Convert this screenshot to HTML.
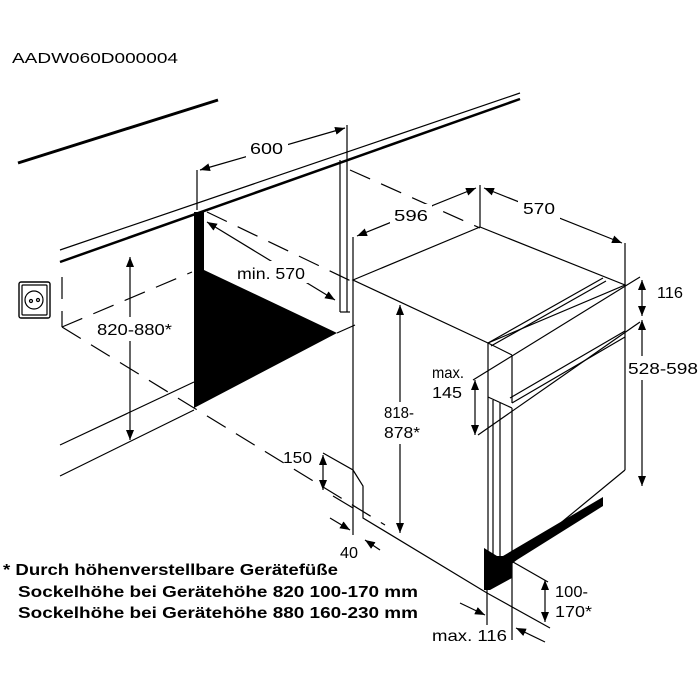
<!DOCTYPE html>
<html><head><meta charset="utf-8"><style>
html,body{margin:0;padding:0;background:#fff;}
svg{display:block;font-family:"Liberation Sans",Arial,sans-serif;}
</style></head><body>
<svg width="700" height="700" viewBox="0 0 700 700" xmlns="http://www.w3.org/2000/svg">
<defs>
<marker id="a" viewBox="0 0 10 10" refX="10" refY="5" markerWidth="10" markerHeight="10" markerUnits="userSpaceOnUse" orient="auto-start-reverse"><path d="M0,1 L10,5 L0,9 Z" fill="#000"/></marker>
</defs>
<text x="12" y="63" font-size="15" textLength="166" lengthAdjust="spacingAndGlyphs">AADW060D000004</text>
<g stroke="#000" fill="none" stroke-width="1.2">
<line x1="18" y1="163" x2="218" y2="100" stroke-width="3"/>
<line x1="60" y1="250" x2="520" y2="93"/>
<line x1="60" y1="262" x2="520" y2="99" stroke-width="2.5"/>
<line x1="197" y1="170" x2="197" y2="210"/>
<line x1="347" y1="125" x2="347" y2="312"/>
<line x1="340" y1="160" x2="340" y2="312"/>
<line x1="340" y1="312" x2="350" y2="312"/>
<line x1="337" y1="333" x2="355" y2="325"/>
<line x1="200" y1="170" x2="345" y2="128" marker-start="url(#a)" marker-end="url(#a)"/>
<line x1="207" y1="222" x2="335" y2="300" marker-start="url(#a)" marker-end="url(#a)"/>
<g stroke-dasharray="22,12">
<line x1="207" y1="212" x2="355" y2="283"/>
<line x1="350" y1="170" x2="480" y2="228"/>
<line x1="62" y1="327" x2="192" y2="272"/>
<line x1="62" y1="327" x2="385" y2="525"/>
<line x1="62" y1="277" x2="62" y2="327"/>
</g>
<line x1="60" y1="445" x2="194" y2="382"/>
<line x1="60" y1="476" x2="194" y2="410"/>
<line x1="130" y1="257" x2="130" y2="440" marker-start="url(#a)" marker-end="url(#a)"/>
<rect x="19" y="282" width="31" height="36" rx="2" stroke-width="1.4"/>
<rect x="22" y="285" width="25" height="30" rx="1"/>
<circle cx="34" cy="300" r="9"/>
<circle cx="31" cy="301" r="1.5"/><circle cx="38" cy="300" r="1.5"/>
<polyline points="323,453 353,470 363,486 363,518 487,593"/>
<line x1="323" y1="455" x2="323" y2="490" marker-start="url(#a)" marker-end="url(#a)"/>
<line x1="353" y1="280" x2="353" y2="535"/>
<line x1="330" y1="518" x2="350" y2="530" marker-end="url(#a)"/>
<line x1="380" y1="550" x2="365" y2="540" marker-end="url(#a)"/>
<line x1="333" y1="496" x2="353" y2="508"/>
<polygon points="353,280 480,227 625,285 488,343"/>
<line x1="480" y1="185" x2="480" y2="227"/>
<line x1="353" y1="237" x2="353" y2="280"/>
<line x1="625" y1="243" x2="625" y2="470"/>
<line x1="357" y1="236" x2="476" y2="188" marker-start="url(#a)" marker-end="url(#a)"/>
<line x1="484" y1="188" x2="622" y2="243" marker-start="url(#a)" marker-end="url(#a)"/>
<line x1="488" y1="343" x2="603" y2="278"/>
<line x1="491" y1="346" x2="606" y2="281"/>
<line x1="488" y1="343" x2="512" y2="355"/>
<line x1="512" y1="355" x2="512" y2="403"/>
<line x1="512" y1="403" x2="625" y2="337"/>
<line x1="510" y1="398" x2="625" y2="331"/>
<line x1="488" y1="397" x2="512" y2="408"/>
<line x1="488" y1="343" x2="488" y2="555"/>
<line x1="493" y1="400" x2="493" y2="555"/>
<line x1="500" y1="403" x2="500" y2="560"/>
<line x1="512" y1="408" x2="512" y2="640"/>
<line x1="625" y1="470" x2="512" y2="563"/>
<line x1="473" y1="380" x2="640" y2="277"/>
<line x1="478" y1="435" x2="640" y2="322"/>
<line x1="642" y1="280" x2="642" y2="316" marker-start="url(#a)" marker-end="url(#a)"/>
<line x1="642" y1="320" x2="642" y2="486" marker-start="url(#a)" marker-end="url(#a)"/>
<line x1="475" y1="380" x2="475" y2="435" marker-start="url(#a)" marker-end="url(#a)"/>
<line x1="400" y1="305" x2="400" y2="533" marker-start="url(#a)" marker-end="url(#a)"/>
<line x1="513" y1="562" x2="548" y2="582"/>
<line x1="487" y1="593" x2="550" y2="628"/>
<line x1="545" y1="580" x2="545" y2="622" marker-start="url(#a)" marker-end="url(#a)"/>
<line x1="487" y1="590" x2="487" y2="625"/>
<line x1="460" y1="603" x2="485" y2="615" marker-end="url(#a)"/>
<line x1="545" y1="642" x2="516" y2="628" marker-end="url(#a)"/>
</g>
<polygon points="194,212 204,212 204,270 337,333 194,408" fill="#000"/>
<polygon points="484,548 497,556 503,556 603,497 603,506 512,563 512,578 490,590 484,590" fill="#000"/>
<g fill="#fff">
<rect x="246" y="136" width="42" height="22"/>
<rect x="232" y="261" width="76" height="22"/>
<rect x="93" y="317" width="84" height="24"/>
<rect x="390" y="204" width="42" height="22"/>
<rect x="518" y="197" width="42" height="22"/>
<rect x="380" y="402" width="44" height="42"/>
<rect x="626" y="356" width="74" height="24"/>
</g>
<g font-size="16" fill="#000" lengthAdjust="spacingAndGlyphs">
<text x="250" y="154" textLength="33" lengthAdjust="spacingAndGlyphs">600</text>
<text x="237" y="279" textLength="68" lengthAdjust="spacingAndGlyphs">min. 570</text>
<text x="97" y="335" textLength="75" lengthAdjust="spacingAndGlyphs">820-880*</text>
<text x="394" y="221" textLength="34" lengthAdjust="spacingAndGlyphs">596</text>
<text x="523" y="214" textLength="32" lengthAdjust="spacingAndGlyphs">570</text>
<text x="657" y="298" textLength="26" lengthAdjust="spacingAndGlyphs">116</text>
<text x="628" y="374" textLength="70" lengthAdjust="spacingAndGlyphs">528-598</text>
<text x="432" y="378" textLength="32" lengthAdjust="spacingAndGlyphs">max.</text>
<text x="432" y="398" textLength="30" lengthAdjust="spacingAndGlyphs">145</text>
<text x="384" y="418" textLength="30" lengthAdjust="spacingAndGlyphs">818-</text>
<text x="384" y="438" textLength="36" lengthAdjust="spacingAndGlyphs">878*</text>
<text x="283" y="463" textLength="29" lengthAdjust="spacingAndGlyphs">150</text>
<text x="340" y="558" textLength="18" lengthAdjust="spacingAndGlyphs">40</text>
<text x="555" y="597" textLength="33" lengthAdjust="spacingAndGlyphs">100-</text>
<text x="555" y="617" textLength="37" lengthAdjust="spacingAndGlyphs">170*</text>
<text x="432" y="641" textLength="75" lengthAdjust="spacingAndGlyphs">max. 116</text>
</g>
<g font-size="16" font-weight="bold" fill="#000">
<text x="3" y="575" textLength="335" lengthAdjust="spacingAndGlyphs">* Durch höhenverstellbare Gerätefüße</text>
<text x="18" y="597" textLength="400" lengthAdjust="spacingAndGlyphs">Sockelhöhe bei Gerätehöhe 820  100-170 mm</text>
<text x="18" y="618" textLength="400" lengthAdjust="spacingAndGlyphs">Sockelhöhe bei Gerätehöhe 880  160-230 mm</text>
</g>
</svg>
</body></html>
